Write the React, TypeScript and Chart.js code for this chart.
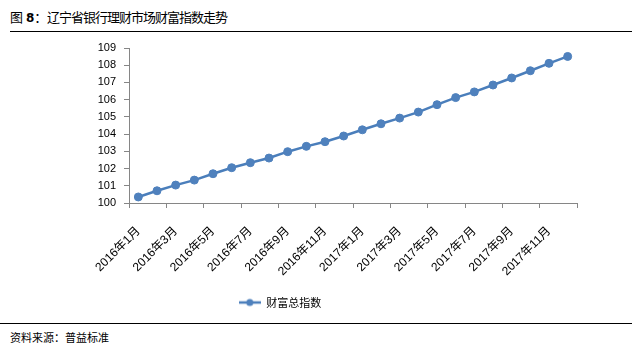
import React, { useEffect, useRef } from "react";
import { Chart, registerables } from "chart.js";

Chart.register(...registerables);

const titlePrefix = "图 8：";
const titleMain = "辽宁省银行理财市场财富指数走势";
const sourceText = "资料来源：普益标准";
const seriesName = "财富总指数";

const categories = [
  "2016年1月", "2016年2月", "2016年3月", "2016年4月", "2016年5月", "2016年6月",
  "2016年7月", "2016年8月", "2016年9月", "2016年10月", "2016年11月", "2016年12月",
  "2017年1月", "2017年2月", "2017年3月", "2017年4月", "2017年5月", "2017年6月",
  "2017年7月", "2017年8月", "2017年9月", "2017年10月", "2017年11月", "2017年12月",
];

const indexValues = [
  100.35, 100.71, 101.04, 101.33, 101.7, 102.05, 102.34, 102.61, 102.98, 103.29,
  103.56, 103.89, 104.25, 104.6, 104.93, 105.28, 105.71, 106.12, 106.45, 106.85,
  107.26, 107.68, 108.11, 108.51,
];

const yMin = 100;
const yMax = 109;
const yStep = 1;

const LINE_COLOR = "#4A7EBB";
const POINT_COLOR = "#4F81BD";
const AXIS_COLOR = "#868686";
const FONT_FAMILY = "'Liberation Sans', Arial, 'Noto Sans CJK SC', sans-serif";
const CJK_FONT = "'Noto Sans CJK SC', 'Liberation Sans', sans-serif";

function makeLegendIcon(): HTMLCanvasElement {
  const c = document.createElement("canvas");
  c.width = 22;
  c.height = 10;
  const g = c.getContext("2d")!;
  g.strokeStyle = LINE_COLOR;
  g.lineWidth = 2.5;
  g.beginPath();
  g.moveTo(0, 5);
  g.lineTo(22, 5);
  g.stroke();
  g.fillStyle = POINT_COLOR;
  g.beginPath();
  g.arc(11, 5, 3.5, 0, Math.PI * 2);
  g.fill();
  return c;
}

export default function App() {
  const canvasRef = useRef<HTMLCanvasElement | null>(null);

  useEffect(() => {
    if (!canvasRef.current) return;
    const icon = makeLegendIcon();
    const chart = new Chart(canvasRef.current, {
      type: "line",
      data: {
        labels: categories,
        datasets: [
          {
            label: seriesName,
            data: indexValues,
            borderColor: LINE_COLOR,
            backgroundColor: POINT_COLOR,
            borderWidth: 2.5,
            pointRadius: 4,
            pointBackgroundColor: POINT_COLOR,
            pointBorderColor: POINT_COLOR,
            pointBorderWidth: 1,
            tension: 0,
          },
        ],
      },
      options: {
        responsive: false,
        maintainAspectRatio: false,
        animation: false,
        layout: { padding: { top: 48, right: 55, left: 0, bottom: 0 } },
        plugins: {
          tooltip: { enabled: false },
          title: { display: false },
          legend: {
            display: true,
            position: "bottom",
            labels: {
              usePointStyle: true,
              pointStyle: icon as any,
              pointStyleWidth: 22,
              boxHeight: 10,
              color: "#000",
              padding: 10,
              font: { family: CJK_FONT, size: 11 },
            },
          },
        },
        scales: {
          x: {
            type: "category",
            offset: true,
            afterFit: (s: any) => {
              s.height = 84;
            },
            grid: {
              offset: true,
              drawOnChartArea: false,
              drawTicks: true,
              tickLength: 5,
              lineWidth: 1,
              color: (ctx: any) =>
                ctx.index === undefined || ctx.index % 2 === 0 ? AXIS_COLOR : "rgba(0,0,0,0)",
            },
            border: { color: AXIS_COLOR, width: 1 },
            ticks: {
              autoSkip: false,
              minRotation: 45,
              maxRotation: 45,
              padding: 16,
              color: "#000",
              font: { family: FONT_FAMILY, size: 12 },
              callback: (_v: any, i: number) => (i % 2 === 0 ? categories[i] : ""),
            },
          },
          y: {
            min: yMin,
            max: yMax,
            afterFit: (s: any) => {
              s.width = 146;
            },
            grid: {
              drawOnChartArea: false,
              drawTicks: true,
              tickLength: 5,
              color: AXIS_COLOR,
            },
            border: { color: AXIS_COLOR, width: 1 },
            ticks: {
              stepSize: yStep,
              padding: 8,
              color: "#000",
              font: { family: FONT_FAMILY, size: 11 },
            },
          },
        },
      },
    });
    return () => chart.destroy();
  }, []);

  return (
    <div
      style={{
        position: "fixed",
        left: 0,
        top: 0,
        width: 632,
        height: 358,
        background: "#fff",
        overflow: "hidden",
      }}
    >
      <div
        style={{
          position: "absolute",
          left: 10,
          top: 8,
          fontFamily: CJK_FONT,
          fontSize: 13,
          lineHeight: "18px",
          color: "#000",
          whiteSpace: "pre",
        }}
      >
        <span style={{ display: "inline-block", width: 37 }}>
          图 <span style={{ fontFamily: "'DejaVu Sans', sans-serif", fontWeight: 700, fontSize: 12 }}>8</span>：
        </span>
        <span style={{ letterSpacing: -1 }}>{titleMain}</span>
      </div>
      <div
        style={{
          position: "absolute",
          left: 10,
          top: 31,
          width: 622,
          height: 1,
          background: "#000",
        }}
      />
      <div style={{ position: "absolute", left: -17, top: 0, width: 649, height: 318 }}>
        <canvas ref={canvasRef} width={649} height={318} style={{ display: "block" }} />
      </div>
      <div
        style={{
          position: "absolute",
          left: 0,
          top: 323,
          width: 632,
          height: 1,
          background: "#000",
        }}
      />
      <div
        style={{
          position: "absolute",
          left: 10,
          top: 329,
          fontFamily: CJK_FONT,
          fontSize: 11,
          lineHeight: "16px",
          color: "#000",
          whiteSpace: "nowrap",
        }}
      >
        {sourceText}
      </div>
    </div>
  );
}
